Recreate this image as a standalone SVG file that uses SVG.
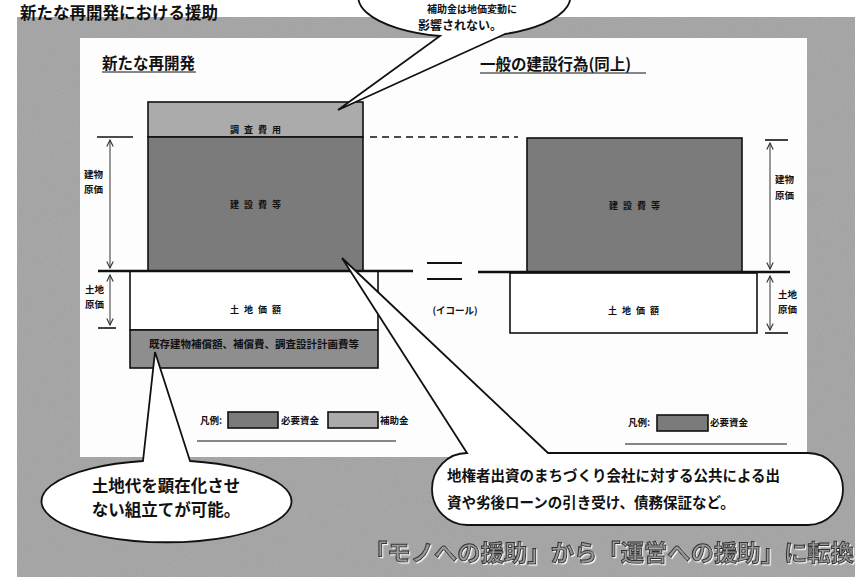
<svg xmlns="http://www.w3.org/2000/svg" width="860" height="584" viewBox="0 0 860 584">
<defs>
<style>
text { font-family: "Noto Sans CJK JP", "Noto Sans CJK SC", sans-serif; fill: #111; font-weight: 700; }
.ln { stroke: #111; fill: none; stroke-width: 1.6; }
.thin { stroke: #333; fill: none; stroke-width: 1; }
.dark { fill: #7b7b7b; stroke: #111; stroke-width: 1.6; }
.light { fill: #ababab; stroke: #111; stroke-width: 1.6; }
.strip { fill: #8e8e8e; stroke: #111; stroke-width: 1.6; }
.white { fill: #ffffff; stroke: #111; stroke-width: 1.6; }
.bubble { fill: #ffffff; stroke: #111; stroke-width: 1.8; }
.lbl { font-size: 9px; letter-spacing: 5px; }
.dim { font-size: 9.5px; }
.head { font-size: 15.5px; }
.leg { font-size: 9.5px; }
</style>
<marker id="ah" viewBox="0 0 10 10" refX="9" refY="5" markerWidth="8" markerHeight="8" orient="auto-start-reverse">
<path d="M1,1 L9,5 L1,9" fill="none" stroke="#333" stroke-width="1.4"/>
</marker>
<filter id="grain" x="0" y="0" width="100%" height="100%">
<feTurbulence type="fractalNoise" baseFrequency="0.9" numOctaves="2" seed="3"/>
<feColorMatrix type="saturate" values="0"/>
</filter>
<filter id="halo" x="-5%" y="-30%" width="110%" height="160%">
<feDropShadow dx="1.2" dy="1.2" stdDeviation="0.6" flood-color="#f2f2f2" flood-opacity="1"/>
</filter>
</defs>

<g id="background">
<rect width="860" height="584" fill="#ffffff"/>
<rect x="17" y="17" width="838" height="560" fill="#a3a3a3"/>
<rect x="17" y="17" width="838" height="560" filter="url(#grain)" opacity="0.18"/>
<rect x="80" y="38" width="727" height="419" fill="#fdfdfd"/>
</g>

<g id="title">
<text x="20" y="19" font-size="16.5">新たな再開発における援助</text>
</g>

<g id="headings">
<text class="head" x="102" y="69">新たな再開発</text>
<line x1="102" y1="72" x2="196" y2="72" stroke="#111" stroke-width="1.2"/>
<text class="head" x="480" y="70">一般の建設行為(同上)</text>
<line x1="480" y1="73" x2="646" y2="73" stroke="#111" stroke-width="1.2"/>
</g>

<g id="left-building">
<rect class="light" x="148" y="102" width="215" height="35"/>
<text class="lbl" x="258" y="133" text-anchor="middle">調査費用</text>
<rect class="dark" x="148" y="137" width="215" height="134"/>
<text class="lbl" x="258" y="208" text-anchor="middle">建設費等</text>
</g>

<g id="left-land">
<rect class="white" x="130" y="271" width="248" height="59"/>
<text class="lbl" x="258" y="313" text-anchor="middle">土地価額</text>
<rect class="strip" x="130" y="330" width="248" height="38"/>
<text x="254" y="348" font-size="10.5" text-anchor="middle">既存建物補償額、補償費、調査設計計画費等</text>
</g>

<g id="right-building">
<rect class="dark" x="527" y="138" width="215" height="134"/>
<text class="lbl" x="637" y="209" text-anchor="middle">建設費等</text>
</g>

<g id="right-land">
<rect class="white" x="510" y="273" width="247" height="60"/>
<text class="lbl" x="636" y="314" text-anchor="middle">土地価額</text>
</g>

<g id="equal">
<line x1="427" y1="263" x2="462" y2="263" stroke="#111" stroke-width="2"/>
<line x1="427" y1="279" x2="462" y2="279" stroke="#111" stroke-width="2"/>
<text x="455" y="314" font-size="9.5" text-anchor="middle">(イコール)</text>
</g>

<g id="dimensions">
<line x1="97" y1="137" x2="133" y2="137" class="ln" stroke-width="1.2"/>
<line x1="110" y1="140" x2="110" y2="268" class="thin" marker-start="url(#ah)" marker-end="url(#ah)"/>
<text class="dim" x="84" y="178">建物</text>
<text class="dim" x="84" y="193">原価</text>
<line x1="110" y1="275" x2="110" y2="325" class="thin" marker-start="url(#ah)" marker-end="url(#ah)"/>
<line x1="98" y1="328" x2="116" y2="328" class="ln" stroke-width="1.2"/>
<text class="dim" x="85" y="293">土地</text>
<text class="dim" x="85" y="308">原価</text>

<line x1="765" y1="140" x2="788" y2="140" class="ln" stroke-width="1.2"/>
<line x1="770" y1="143" x2="770" y2="269" class="thin" marker-start="url(#ah)" marker-end="url(#ah)"/>
<text class="dim" x="775" y="183">建物</text>
<text class="dim" x="775" y="199">原価</text>
<line x1="770" y1="276" x2="770" y2="330" class="thin" marker-start="url(#ah)" marker-end="url(#ah)"/>
<line x1="765" y1="333" x2="788" y2="333" class="ln" stroke-width="1.2"/>
<text class="dim" x="778" y="298">土地</text>
<text class="dim" x="778" y="313">原価</text>
</g>

<g id="connectors">
<line x1="98" y1="271" x2="413" y2="271" stroke="#111" stroke-width="2.4"/>
<line x1="478" y1="272" x2="790" y2="272" stroke="#111" stroke-width="2.4"/>
<line x1="370" y1="137" x2="518" y2="137" stroke="#111" stroke-width="1.6" stroke-dasharray="7 5"/>
</g>

<g id="legend-left">
<text class="leg" x="200" y="424">凡例:</text>
<rect class="dark" x="228" y="412" width="50" height="16" stroke-width="1.3"/>
<text class="leg" x="281" y="424">必要資金</text>
<rect class="light" x="328" y="412" width="50" height="16" fill="#c4c4c4" stroke-width="1.3"/>
<text class="leg" x="380" y="424">補助金</text>
<line x1="197" y1="441" x2="396" y2="441" stroke="#111" stroke-width="1.2"/>
</g>

<g id="legend-right">
<text class="leg" x="628" y="426">凡例:</text>
<rect class="dark" x="657" y="415" width="51" height="16" stroke-width="1.3"/>
<text class="leg" x="710" y="426">必要資金</text>
<line x1="625" y1="444" x2="787" y2="444" stroke="#111" stroke-width="1.2"/>
</g>

<g id="callout-top">
<path class="bubble" d="M440,36 A106,40 0 1 1 505,34 L338,110 Z"/>
<text x="472" y="13" font-size="10" text-anchor="middle">補助金は地価変動に</text>
<text x="418" y="30" font-size="12">影響されない。</text>
</g>

<g id="callout-right">
<path class="bubble" d="M467,453 L342,258 L548,453 L808,453 A35,36 0 0 1 808,525 L467,525 A35,36 0 0 1 467,453 Z"/>
<text x="447" y="481" font-size="14.5">地権者出資のまちづくり会社に対する公共による出</text>
<text x="447" y="508" font-size="14.5">資や劣後ローンの引き受け、債務保証など。</text>
</g>

<g id="callout-left">
<path class="bubble" d="M143,461 L155,352 L190,461 A125,41 0 1 1 143,461 Z"/>
<text x="166" y="492" font-size="16.5" text-anchor="middle">土地代を顕在化させ</text>
<text x="166" y="516" font-size="16.5" text-anchor="middle">ない組立てが可能。</text>
</g>

<g id="banner">
<text x="364" y="561" font-size="23" textLength="490" lengthAdjust="spacingAndGlyphs" stroke="#333" stroke-width="1" filter="url(#halo)" style="fill:#9a9a9a">「モノへの援助」から「運営への援助」に転換</text>
</g>
</svg>
